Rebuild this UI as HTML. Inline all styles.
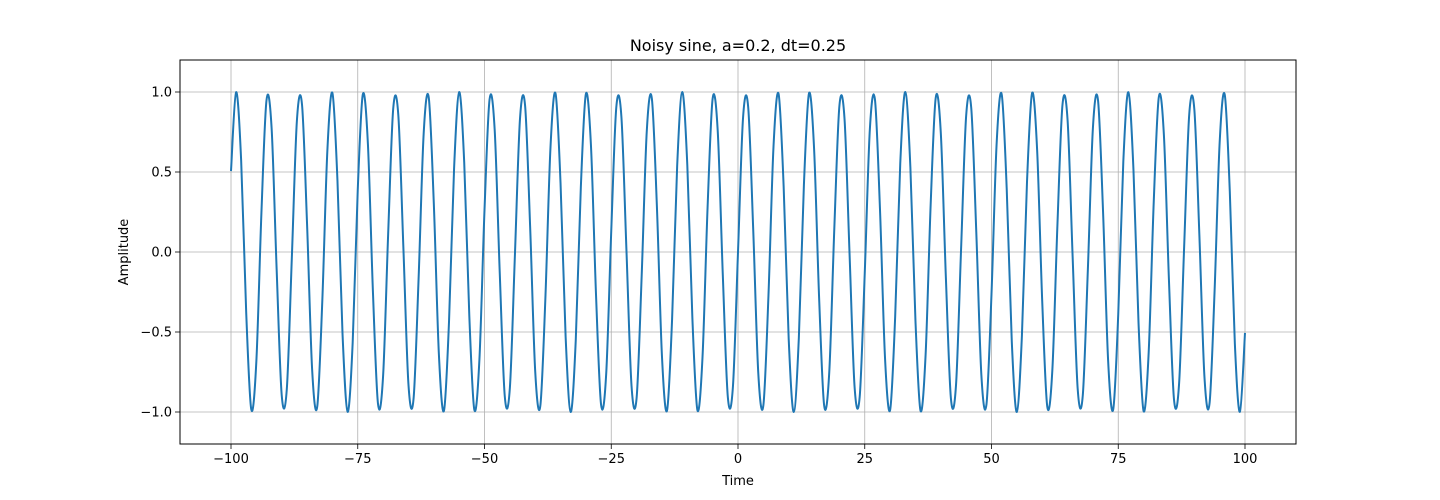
<!DOCTYPE html>
<html><head><meta charset="utf-8">
<style>
body{margin:0;background:#fff;}
svg{display:block;font-family:"DejaVu Sans","Liberation Sans",sans-serif;}
</style></head>
<body>
<svg id="chart" width="1440" height="500">
<rect width="1440" height="500" fill="#fff"/>
<g id="grid"></g>
<g id="series"></g>
<rect x="180" y="60" width="1116" height="384" fill="none" stroke="#000" stroke-width="1"/>
<g id="ticks"></g>
<text x="738" y="51" text-anchor="middle" font-size="16">Noisy sine, a=0.2, dt=0.25</text>
<text x="738" y="485" text-anchor="middle" font-size="13">Time</text>
<text x="0" y="0" transform="translate(128,252) rotate(-90)" text-anchor="middle" font-size="13">Amplitude</text>
</svg>
<script>
const tStart = -100;
const tStep = 1;
const amplitude = [
.506,.999,.574,-.380,-.984,-.683,.245,.948,.779,-.106,-.894,-.860,-.035,.822,.923,.176,-.733,-.968,-.313,.629,.994,.444,-.514,-.999,-.566,.388,.985,.677,-.254,-.951,-.774,.115,.898,.856,.027,-.827,-.920,-.167,.739,.966,.305,-.637,-.993,-.436,.522,1.000,.559,-.396,-.987,-.670,.262,.954,.768,-.124,-.902,-.851,-.018,.832,.917,.159,-.745,-.964,-.296,.644,.992,.428,-.529,-1.000,-.551,.404,.988,.664,-.271,-.956,-.763,.132,.906,.846,.009,-.837,-.913,-.150,.751,.961,.288,-.650,-.991,-.420,.537,1.000,.544,-.412,-.989,-.657,.279,.959,.757,-.141,-.909,-.841,
0,
.841,.909,.141,-.757,-.959,-.279,.657,.989,.412,-.544,-1.000,-.537,.420,.991,.650,-.288,-.961,-.751,.150,.913,.837,-.009,-.846,-.906,-.132,.763,.956,.271,-.664,-.988,-.404,.551,1.000,.529,-.428,-.992,-.644,.296,.964,.745,-.159,-.917,-.832,.018,.851,.902,.124,-.768,-.954,-.262,.670,.987,.396,-.559,-1.000,-.522,.436,.993,.637,-.305,-.966,-.739,.167,.920,.827,-.027,-.856,-.898,-.115,.774,.951,.254,-.677,-.985,-.388,.566,.999,.514,-.444,-.994,-.629,.313,.968,.733,-.176,-.923,-.822,.035,.860,.894,.106,-.779,-.948,-.245,.683,.984,.380,-.574,-.999,-.506
];
const xTicks = [-100,-75,-50,-25,0,25,50,75,100];
const yTicks = [-1.0,-0.5,0.0,0.5,1.0];
const yTickLabels = ["\u22121.0","\u22120.5","0.0","0.5","1.0"];

const NS = "http://www.w3.org/2000/svg";
const L=180,R=1296,T=60,B=444, xMin=-110.06,xMax=110.06,yMin=-1.2,yMax=1.2;
function xs(v){return L+(v-xMin)/(xMax-xMin)*(R-L);}
function ys(v){return B-(v-yMin)/(yMax-yMin)*(B-T);}
function mk(tag,attrs,parent){const e=document.createElementNS(NS,tag);for(const k in attrs)e.setAttribute(k,attrs[k]);parent.appendChild(e);return e;}
const grid=document.getElementById('grid'), ticks=document.getElementById('ticks'), series=document.getElementById('series');
xTicks.forEach(v=>{
  const x=xs(v);
  const g=mk('line',{x1:x,x2:x,y1:T,y2:B,stroke:'#b0b0b0','stroke-width':0.8},grid);
  
  
  const tk=mk('line',{x1:x,x2:x,y1:B,y2:B+5,stroke:'#000','stroke-width':0.8},ticks);
  
  
  const tx=mk('text',{x:x,y:B+19,'text-anchor':'middle','font-size':13},ticks);
  tx.textContent=v<0?'\u2212'+Math.abs(v):String(v);
  
  
});
yTicks.forEach((v,i)=>{
  const y=ys(v);
  const g=mk('line',{x1:L,x2:R,y1:y,y2:y,stroke:'#b0b0b0','stroke-width':0.8},grid);
  
  
  const tk=mk('line',{x1:L-5,x2:L,y1:y,y2:y,stroke:'#000','stroke-width':0.8},ticks);
  
  
  const tx=mk('text',{x:L-8,y:y+4.5,'text-anchor':'end','font-size':13},ticks);
  tx.textContent=yTickLabels[i];
  
  
});
// Catmull-Rom smoothed path through samples
const pts=amplitude.map((v,i)=>[xs(tStart+i*tStep),ys(v)]);
let d='M'+pts[0][0].toFixed(2)+','+pts[0][1].toFixed(2);
for(let i=0;i<pts.length-1;i++){
  const p0=pts[Math.max(0,i-1)],p1=pts[i],p2=pts[i+1],p3=pts[Math.min(pts.length-1,i+2)];
  const c1=[p1[0]+(p2[0]-p0[0])/6,p1[1]+(p2[1]-p0[1])/6];
  const c2=[p2[0]-(p3[0]-p1[0])/6,p2[1]-(p3[1]-p1[1])/6];
  d+=' C'+c1[0].toFixed(2)+','+c1[1].toFixed(2)+' '+c2[0].toFixed(2)+','+c2[1].toFixed(2)+' '+p2[0].toFixed(2)+','+p2[1].toFixed(2);
}
const line=mk('path',{d:d,fill:'none',stroke:'#1f77b4','stroke-width':2,'stroke-linejoin':'round'},series);


</script>
</body></html>
